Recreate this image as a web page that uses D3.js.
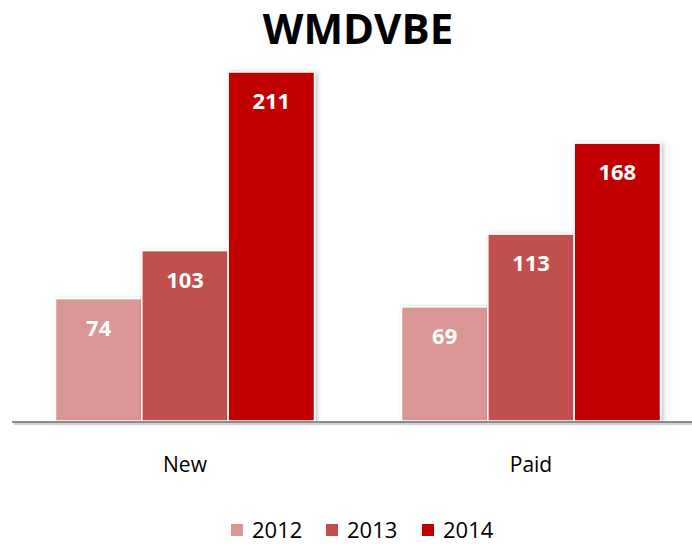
<!DOCTYPE html>
<html>
<head>
<meta charset="utf-8">
<script src="https://cdn.jsdelivr.net/npm/d3@7"></script>
<style>
  body { margin: 0; background: #fff; }
  svg { display: block; font-family: "Open Sans", "DejaVu Sans", sans-serif; }
</style>
</head>
<body>
<div id="chart"></div>
<script>
// data
const categories = ["New", "Paid"];
const years = ["2012", "2013", "2014"];
const values2012 = [74, 69];
const values2013 = [103, 113];
const values2014 = [211, 168];
const colors = ["#D99694", "#C0504D", "#C00000"];

const series = [values2012, values2013, values2014];
const rows = categories.map((c, i) => ({
    cat: c,
    vals: years.map((y, j) => ({year: y, value: series[j][i], idx: j}))
}));

const width = 692, height = 544;
const svg = d3.select("#chart").append("svg")
    .attr("width", width)
    .attr("height", height);

const defs = svg.append("defs");
const shadow = defs.append("filter")
    .attr("id", "shadow")
    .attr("x", "-10%").attr("y", "-10%")
    .attr("width", "130%").attr("height", "120%");
shadow.append("feDropShadow")
    .attr("dx", 2).attr("dy", 1)
    .attr("stdDeviation", 2)
    .attr("flood-color", "#000")
    .attr("flood-opacity", 0.25);

// scales
const x0 = d3.scaleBand()
    .domain(categories)
    .range([12, 704]);

const x1 = d3.scaleBand()
    .domain(years)
    .range([43.5, x0.bandwidth() - 43.5]);

const y = d3.scaleLinear()
    .domain([0, 250])
    .range([421, 7.5]);

// title
svg.append("text")
    .attr("x", 358)
    .attr("y", 44)
    .attr("text-anchor", "middle")
    .style("font-size", "42px")
    .style("font-weight", "bold")
    .text("WMDVBE");

// bars
const groups = svg.selectAll(".grp")
    .data(rows)
    .enter().append("g")
    .attr("class", "grp")
    .attr("transform", d => "translate(" + x0(d.cat) + ",0)");

groups.selectAll("rect")
    .data(d => d.vals)
    .enter().append("rect")
    .attr("x", d => x1(d.year))
    .attr("y", d => y(d.value))
    .attr("width", x1.bandwidth())
    .attr("height", d => y(0) - y(d.value))
    .attr("fill", d => colors[d.idx])
    .attr("stroke", "#fff")
    .attr("stroke-width", 1.5)
    .attr("filter", "url(#shadow)");

groups.selectAll(".lbl")
    .data(d => d.vals)
    .enter().append("text")
    .attr("class", "lbl")
    .attr("x", d => x1(d.year) + x1.bandwidth() / 2)
    .attr("y", d => y(d.value) + 37)
    .attr("text-anchor", "middle")
    .attr("fill", "#fff")
    .style("font-size", "22px")
    .style("font-weight", "bold")
    .text(d => d.value);

// axis line (shadow drawn as a second line, filters fail on zero-height boxes)
svg.append("line")
    .attr("x1", 14).attr("x2", width)
    .attr("y1", 424).attr("y2", 424)
    .attr("stroke", "#d0d0d0")
    .attr("stroke-width", 2);

svg.append("line")
    .attr("x1", 12).attr("x2", width)
    .attr("y1", 422).attr("y2", 422)
    .attr("stroke", "#8c8c8c")
    .attr("stroke-width", 2);

// category labels
svg.selectAll(".cat")
    .data(categories)
    .enter().append("text")
    .attr("class", "cat")
    .attr("x", d => x0(d) + x0.bandwidth() / 2)
    .attr("y", 472)
    .attr("text-anchor", "middle")
    .style("font-size", "21px")
    .attr("fill", "#000")
    .text(d => d);

// legend
const legendX = [231, 326, 422];
const legend = svg.selectAll(".leg")
    .data(years)
    .enter().append("g")
    .attr("class", "leg")
    .attr("transform", (d, i) => "translate(" + legendX[i] + ",530)");

legend.append("rect")
    .attr("x", 0).attr("y", -6)
    .attr("width", 12).attr("height", 12)
    .attr("fill", (d, i) => colors[i]);

legend.append("text")
    .attr("x", 21)
    .attr("y", 8)
    .style("font-size", "22px")
    .text(d => d);
</script>
</body>
</html>
